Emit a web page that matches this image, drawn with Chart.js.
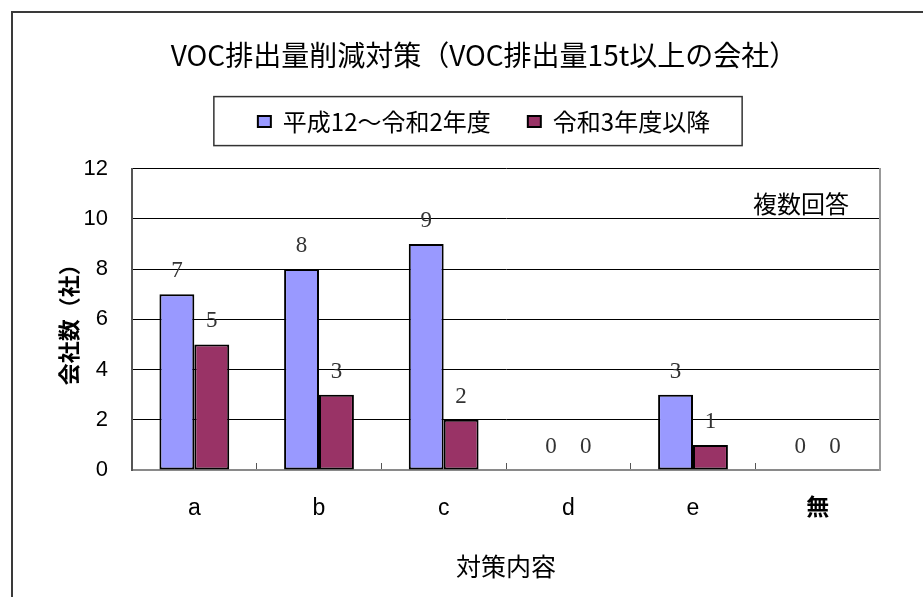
<!DOCTYPE html>
<html>
<head>
<meta charset="utf-8">
<script src="https://cdn.jsdelivr.net/npm/chart.js@4.4.0/dist/chart.umd.min.js"></script>
<style>
  html, body { margin: 0; padding: 0; background: #fff; }
  #wrap { position: relative; width: 923px; height: 597px; overflow: hidden; }
  #frame { position: absolute; left: 11px; top: 11px; width: 1000px; height: 1000px;
           border: 2px solid #3a3a3a; box-sizing: border-box; background: #fff; }
  canvas { position: absolute; left: 0; top: 0; }
</style>
</head>
<body>
<div id="wrap">
  <div id="frame"></div>
  <canvas id="chart" width="923" height="597"></canvas>
</div>
<script>
const categories = ['a', 'b', 'c', 'd', 'e', '無'];
const seriesNames = ['平成12～令和2年度', '令和3年度以降'];
const countsUntilR2 = [7, 8, 9, 0, 3, 0];
const countsFromR3 = [5, 3, 2, 0, 1, 0];
const yMin = 0, yMax = 12, yStep = 2;
const noteText = '複数回答';

const jpFont = '"Noto Sans CJK JP", "Noto Sans", sans-serif';
const numFont = '"Liberation Sans", "Noto Sans CJK JP", sans-serif';

Chart.defaults.color = '#000';
Chart.defaults.font.family = jpFont;

// box drawn around the legend items
const legendFrame = {
  id: 'legendFrame',
  afterDraw(chart) {
    const boxes = chart.legend.legendHitBoxes;
    if (!boxes || !boxes.length) return;
    const first = boxes[0], last = boxes[boxes.length - 1];
    const cy = first.top + first.height / 2;
    const ctx = chart.ctx;
    ctx.save();
    ctx.strokeStyle = '#333';
    ctx.lineWidth = 1.5;
    ctx.strokeRect(first.left - 44, cy - 25, (last.left + last.width + 32) - (first.left - 44), 49);
    ctx.restore();
  }
};

// numbers over the bars + note
const barLabels = {
  id: 'barLabels',
  afterDatasetsDraw(chart) {
    const ctx = chart.ctx;
    ctx.save();
    ctx.font = '23px "Liberation Serif", "DejaVu Serif", serif';
    ctx.fillStyle = '#333';
    ctx.textAlign = 'center';
    ctx.textBaseline = 'middle';
    chart.data.datasets.forEach((ds, i) => {
      chart.getDatasetMeta(i).data.forEach((bar, j) => {
        ctx.fillText(String(ds.data[j]), bar.x, bar.y - 23);
      });
    });
    const area = chart.chartArea;
    ctx.font = '24px ' + jpFont;
    ctx.fillStyle = '#000';
    ctx.textAlign = 'right';
    ctx.fillText(noteText, area.right - 31, chart.scales.y.getPixelForValue(10.6));
    ctx.restore();
  }
};

new Chart(document.getElementById('chart'), {
  type: 'bar',
  data: {
    labels: categories,
    datasets: [
      { label: seriesNames[0], data: countsUntilR2, backgroundColor: '#9999ff' },
      { label: seriesNames[1], data: countsFromR3, backgroundColor: '#993366' }
    ]
  },
  options: {
    responsive: false,
    animation: false,
    layout: { padding: { left: 45, right: 0, top: 0, bottom: 0 } },
    datasets: {
      bar: {
        borderColor: '#000',
        borderWidth: 2,
        borderSkipped: false,
        categoryPercentage: 0.56,
        barPercentage: 1.0
      }
    },
    plugins: {
      title: {
        display: true,
        text: 'VOC排出量削減対策（VOC排出量15t以上の会社）',
        font: { size: 28, weight: 'normal', family: jpFont },
        padding: { top: 39, bottom: 0 }
      },
      legend: {
        display: true,
        position: 'top',
        labels: {
          font: { size: 24, family: jpFont },
          boxWidth: 13,
          boxHeight: 11,
          padding: 37,
          color: '#000'
        }
      },
      tooltip: { enabled: false }
    },
    scales: {
      x: {
        type: 'category',
        position: 'bottom',
        grid: { display: true, drawOnChartArea: false, drawTicks: true, tickLength: -7, color: '#555', offset: true },
        border: { display: true, color: '#8a8a8a', width: 2 },
        ticks: {
          font: ctx => ({ size: 23, family: numFont, weight: ctx.index === 5 ? 'bold' : 'normal' }),
          color: '#000',
          padding: 32
        },
        title: {
          display: true,
          text: '対策内容',
          font: { size: 25, family: jpFont },
          padding: { top: 0, bottom: 16 }
        },
        afterFit(scale) { scale.height = 127; }
      },
      x2: {
        type: 'category',
        position: 'top',
        display: true,
        grid: { display: false },
        border: { display: false },
        ticks: { display: false },
        afterFit(scale) { scale.height = 25; }
      },
      y: {
        min: yMin,
        max: yMax,
        ticks: { stepSize: yStep, font: { size: 22, family: numFont }, color: '#000', padding: 24 },
        grid: {
          drawTicks: false,
          lineWidth: 1,
          color: ctx => (ctx.tick && ctx.tick.value === yMin) ? 'rgba(0,0,0,0)' : '#000'
        },
        border: { display: true, color: '#555', width: 2 },
        title: {
          display: true,
          text: '会社数（社）',
          font: { size: 22, weight: 'bold', family: jpFont },
          padding: { top: 10, bottom: 0 }
        },
        afterFit(scale) { scale.width = 87; }
      },
      y2: {
        type: 'linear',
        position: 'right',
        min: yMin,
        max: yMax,
        display: true,
        grid: { display: false },
        ticks: { display: false },
        border: { display: true, color: '#999', width: 2 },
        afterFit(scale) { scale.width = 43; }
      }
    }
  },
  plugins: [legendFrame, barLabels]
});
</script>
</body>
</html>
